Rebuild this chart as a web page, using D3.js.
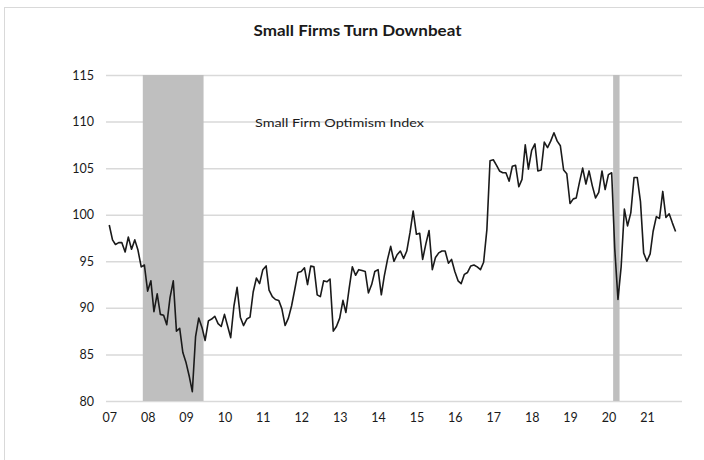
<!DOCTYPE html>
<html>
<head>
<meta charset="utf-8">
<script src="https://cdn.jsdelivr.net/npm/d3@7"></script>
<style>
  body { margin: 0; background: #fff; }
  text { font-family: Lato, Carlito, Calibri, sans-serif; fill: #1a1a1a; }
</style>
</head>
<body>
<script>

// monthly NFIB optimism index, Jan 2007 .. Oct 2021
var startMonth = "2007-01";
var optimism = [
  98.9, 97.3, 96.8, 97.0, 97.0, 96.0, 97.6, 96.3, 97.3, 96.2, 94.4, 94.6,   // 2007
  91.8, 92.9, 89.6, 91.5, 89.3, 89.2, 88.2, 91.1, 92.9, 87.5, 87.8, 85.2,   // 2008
  84.1, 82.6, 81.0, 86.9, 88.9, 87.9, 86.5, 88.6, 88.8, 89.1, 88.3, 88.0,   // 2009
  89.3, 88.0, 86.8, 90.2, 92.2, 89.0, 88.1, 88.8, 89.0, 91.7, 93.2, 92.6,   // 2010
  94.1, 94.5, 91.9, 91.2, 90.9, 90.8, 89.9, 88.1, 88.9, 90.2, 92.0, 93.8,   // 2011
  93.9, 94.3, 92.5, 94.5, 94.4, 91.4, 91.2, 92.9, 92.8, 93.1, 87.5, 88.0,   // 2012
  88.9, 90.8, 89.5, 92.1, 94.4, 93.5, 94.1, 94.0, 93.9, 91.6, 92.5, 93.9,   // 2013
  94.1, 91.4, 93.4, 95.2, 96.6, 95.0, 95.7, 96.1, 95.3, 96.1, 98.1, 100.4,  // 2014
  97.9, 98.0, 95.2, 96.9, 98.3, 94.1, 95.4, 95.9, 96.1, 96.1, 94.8, 95.2,   // 2015
  93.9, 92.9, 92.6, 93.6, 93.8, 94.5, 94.6, 94.4, 94.1, 94.9, 98.4, 105.8,  // 2016
  105.9, 105.3, 104.7, 104.5, 104.5, 103.6, 105.2, 105.3, 103.0, 103.8, 107.5, 104.9, // 2017
  106.9, 107.6, 104.7, 104.8, 107.8, 107.2, 107.9, 108.8, 107.9, 107.4, 104.8, 104.4, // 2018
  101.2, 101.7, 101.8, 103.5, 105.0, 103.3, 104.7, 103.1, 101.8, 102.4, 104.7, 102.7, // 2019
  104.3, 104.5, 96.4, 90.9, 94.4, 100.6, 98.8, 100.2, 104.0, 104.0, 101.4, 95.9,      // 2020
  95.0, 95.8, 98.2, 99.8, 99.6, 102.5, 99.7, 100.1, 99.1, 98.2                        // 2021
];

var recessions = [["2007-12", "2009-06"], ["2020-03", "2020-04"]];
var yearLabels = ["07","08","09","10","11","12","13","14","15","16","17","18","19","20","21"];
var yTicks = [80, 85, 90, 95, 100, 105, 110, 115];

var W = 704, H = 460;
var parseMonth = d3.timeParse("%Y-%m");
var start = parseMonth(startMonth);

var data = optimism.map(function(v, i) {
  return { date: d3.timeMonth.offset(start, i), value: v };
});

var svg = d3.select("body").append("svg")
    .attr("width", W)
    .attr("height", H);

// chart area border
svg.append("rect")
    .attr("x", 4.5).attr("y", 7.5)
    .attr("width", 760).attr("height", 500)
    .attr("fill", "none")
    .attr("stroke", "#d9d9d9");

var x = d3.scaleTime()
    .domain([new Date(2006, 11, 1), new Date(2021, 11, 1)])
    .range([106, 682]);
var y = d3.scaleLinear().domain([80, 115]).range([401, 75]);

// gridlines + y labels
var yAxis = svg.append("g")
    .attr("transform", "translate(106,0)")
    .call(d3.axisLeft(y).tickValues(yTicks).tickSize(-(682 - 106)).tickPadding(12));
yAxis.select(".domain").remove();
yAxis.selectAll(".tick line").attr("stroke", "#d9d9d9").attr("stroke-width", 1.5);
yAxis.selectAll(".tick text")
    .attr("font-size", "12.5px")
    .attr("font-family", "Lato, Carlito, Calibri, sans-serif")
    .attr("fill", "#1a1a1a");

// recession shading, half a month either side of each month
function monthEdge(s, add) {
  return x(d3.timeDay.offset(d3.timeMonth.offset(parseMonth(s), add), -15));
}
svg.selectAll(".rec")
    .data(recessions)
  .enter().append("rect")
    .attr("class", "rec")
    .attr("x", function(d) { return monthEdge(d[0], 0); })
    .attr("width", function(d) { return monthEdge(d[1], 1) - monthEdge(d[0], 0); })
    .attr("y", y(115))
    .attr("height", y(80) - y(115))
    .attr("fill", "#bfbfbf");

// x labels, one per January
var years = d3.timeYear.range(new Date(2007, 0, 1), new Date(2022, 0, 1));
var xAxis = svg.append("g")
    .attr("transform", "translate(0,401)")
    .call(d3.axisBottom(x).tickValues(years)
      .tickFormat(function(d, i) { return yearLabels[i]; })
      .tickSize(0).tickPadding(12));
xAxis.select(".domain").remove();
xAxis.selectAll(".tick text")
    .attr("font-size", "12.5px")
    .attr("font-family", "Lato, Carlito, Calibri, sans-serif")
    .attr("fill", "#1a1a1a");

var line = d3.line()
    .x(function(d) { return x(d.date); })
    .y(function(d) { return y(d.value); });

svg.append("path")
    .datum(data)
    .attr("d", line)
    .attr("fill", "none")
    .attr("stroke", "#1a1a1a")
    .attr("stroke-width", 1.6)
    .attr("stroke-linejoin", "round");

svg.append("text")
    .attr("x", 253.5).attr("y", 36)
    .attr("font-size", "14.5px")
    .attr("font-weight", "bold")
    .attr("textLength", 208)
    .attr("lengthAdjust", "spacingAndGlyphs")
    .text("Small Firms Turn Downbeat");

svg.append("text")
    .attr("x", 255).attr("y", 126.5)
    .attr("font-size", "11.5px")
    .attr("textLength", 169)
    .attr("lengthAdjust", "spacingAndGlyphs")
    .text("Small Firm Optimism Index");

</script>
</body>
</html>
